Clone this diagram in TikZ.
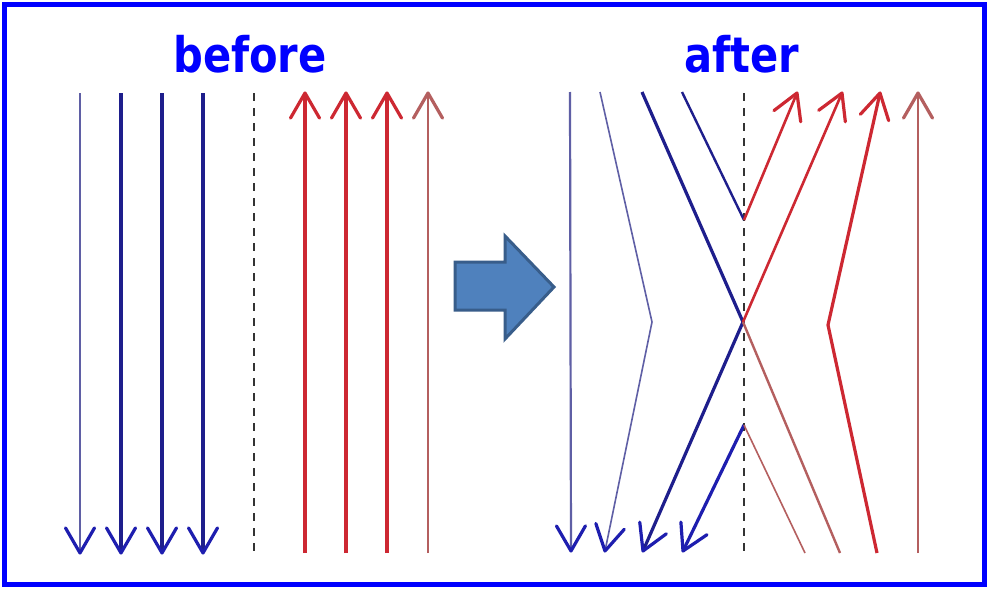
\documentclass[tikz,border=0pt]{standalone}
\usepackage{fontspec}
\setmainfont{DejaVu Sans}
\usetikzlibrary{calc}
\definecolor{frameblue}{RGB}{0,0,255}
\definecolor{navy}{RGB}{30,30,140}
\definecolor{headblue}{RGB}{30,30,175}
\definecolor{lightnavy}{RGB}{95,95,165}
\definecolor{mred}{RGB}{205,40,50}
\definecolor{brred}{RGB}{180,95,95}
\definecolor{bigfill}{RGB}{79,129,189}
\definecolor{bigdraw}{RGB}{56,93,138}
\tikzset{
  barbstyle/.style={line width=3.2pt,line cap=round,line join=round},
  bthick/.style={draw=navy,line width=3.2pt},
  bthin/.style={draw=lightnavy,line width=2pt},
  rthick/.style={draw=mred,line width=3.2pt},
  rthin/.style={draw=brred,line width=2.2pt},
  divider/.style={draw=black!80,line width=2pt,dash pattern=on 8pt off 7pt},
  title/.style={font=\bfseries\fontsize{49}{51}\selectfont,text=frameblue,anchor=base,inner sep=0pt}
}
% #1 colour, #2 tip, #3 point back along the line
\newcommand\barbhead[3]{\draw[barbstyle,#1] ($(#2)!29pt!30:(#3)$) -- (#2) -- ($(#2)!29pt!-30:(#3)$);}
\begin{document}
\begin{tikzpicture}[x=1pt,y=-1pt]
\useasboundingbox (0,0) rectangle (989,589);
\fill[white] (0,0) rectangle (989,589);
\draw[frameblue,line width=5pt] (4.5,4.5) rectangle (984.5,584.5);
\node[title] (tb) at (250,72) {\scalebox{0.85}[1]{before}};
\node[title] (ta) at (742,72) {\scalebox{0.85}[1]{after}};
% before
\foreach \x/\s in {80/bthin,121/bthick,162/bthick,203/bthick}{
  \coordinate (bt\x) at (\x,93);
  \coordinate (bb\x) at (\x,553);
  \draw[\s] (bt\x) -- (bb\x);
  \barbhead{headblue}{bb\x}{bt\x}
}
\foreach \x/\s/\c in {305/rthick/mred,346/rthick/mred,387/rthick/mred,428/rthin/brred}{
  \coordinate (rb\x) at (\x,553);
  \coordinate (rt\x) at (\x,93);
  \draw[\s] (rb\x) -- (rt\x);
  \barbhead{\c}{rt\x}{rb\x}
}
\coordinate (d1t) at (254,93);
\coordinate (d1b) at (254,555);
\draw[divider] (d1t) -- (d1b);
% big arrow
\draw[fill=bigfill,draw=bigdraw,line width=3pt,line join=miter]
  (455,262) -- (505,262) -- (505,236) -- (554,287) -- (505,339) -- (505,310) -- (455,310) -- cycle;
% after
\coordinate (d2t) at (744,93);
\coordinate (d2b) at (744,555);
\draw[divider] (d2t) -- (d2b);
\coordinate (X) at (743,322);
\coordinate (U) at (744,220);
\coordinate (L) at (744,425);
\coordinate (KB) at (652,322);
\coordinate (KR) at (828,325);
\coordinate (a1) at (570,92);  \coordinate (e1) at (571,551);
\coordinate (a2) at (600,92);  \coordinate (e2) at (605,551);
\coordinate (a3) at (642,92);  \coordinate (e3) at (643,551);
\coordinate (a4) at (682,92);  \coordinate (e4) at (683,551);
\coordinate (f1) at (797,93);  \coordinate (g1) at (805,553);
\coordinate (f2) at (842,93);  \coordinate (g2) at (840,553);
\coordinate (f3) at (880,93);  \coordinate (g3) at (877,553);
\coordinate (f4) at (918,93);  \coordinate (g4) at (918,553);
\draw[bthin,line width=2.2pt] (a1) -- (e1);
\barbhead{headblue}{e1}{a1}
\draw[bthin,line width=1.6pt] (a2) -- (KB) -- (e2);
\barbhead{headblue}{e2}{KB}
\draw[bthick] (a3) -- (X) -- (e3);
\barbhead{headblue}{e3}{X}
\draw[bthick,line width=2.4pt] (a4) -- (U);
\draw[bthick,draw=headblue] (L) -- (e4);
\barbhead{headblue}{e4}{L}
\draw[rthick,line width=2.6pt] (U) -- (f1);
\barbhead{mred}{f1}{U}
\draw[rthick,line width=2.6pt] (X) -- (f2);
\barbhead{mred}{f2}{X}
\draw[rthin,line width=2.4pt] (g2) -- (X);
\draw[rthick,line width=3.2pt] (g3) -- (KR) -- (f3);
\barbhead{mred}{f3}{KR}
\draw[rthin] (g4) -- (f4);
\barbhead{brred}{f4}{g4}
\draw[rthin,line width=1.6pt] (L) -- (g1);
\end{tikzpicture}
\end{document}
